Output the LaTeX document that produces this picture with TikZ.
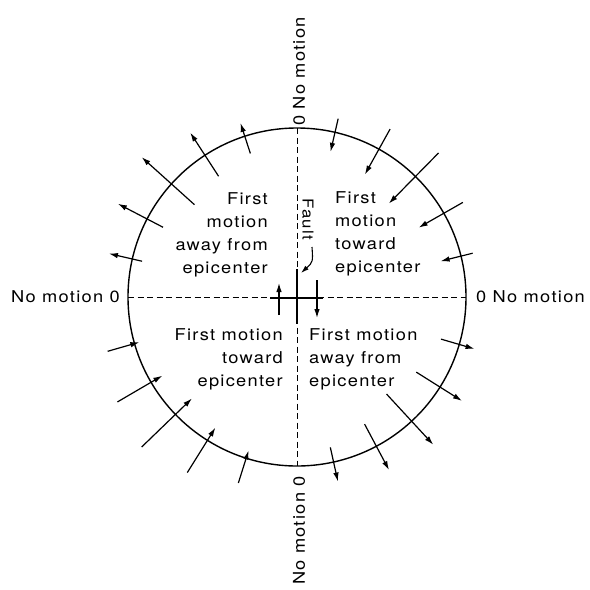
\documentclass[tikz,border=0pt]{standalone}
\usepackage{fontspec}
\setmainfont{TeX Gyre Heros}[FakeStretch=1.12,LetterSpace=8]
\usetikzlibrary{arrows.meta,calc}
\tikzset{
  motion/.style={-{Latex[length=9pt,width=5.5pt]}, line width=1.2pt},
  lbl/.style={inner sep=0pt, font=\fontsize{16.3}{23.3}\selectfont},
  faultline/.style={dash pattern=on 6pt off 3.5pt, line width=1pt},
  rim/.style={line width=1.4pt},
}
\begin{document}
\begin{tikzpicture}[x=1pt,y=-1pt]
\useasboundingbox (0,0) rectangle (590,590);
\coordinate (C) at (297,297);
\draw[rim] (C) circle[radius=169pt];
% dashed axes
\coordinate (vt) at (297,128);
\coordinate (vb) at (297,466);
\coordinate (hl) at (128,297);
\coordinate (hr) at (466,297);
\draw[faultline] (vt) -- (vb);
\draw[faultline] (hl) -- (hr);
% solid cross at centre
\coordinate (cxt) at (297,269);
\coordinate (cxb) at (297,324);
\coordinate (cxl) at (270,298);
\coordinate (cxr) at (323,298);
\draw[line width=1.3pt] (cxt) -- (cxb);
\draw[line width=1.3pt] (cxl) -- (cxr);
% slip arrows
\coordinate (ua) at (279,315);
\coordinate (ub) at (279,283);
\coordinate (da) at (317,280);
\coordinate (db) at (317,318);
\draw[motion] (ua) -- (ub);
\draw[motion] (da) -- (db);
% first-motion arrows on the rim: angle / from radius / to radius
\foreach \a/\ra/\rb [count=\i] in {
  108/151/183, 123/144/196, 138/138/209, 152.5/151/202, 167/159/193,
  77/183/149, 61/192/140, 45.5/202/131, 29.7/191/140, 14/181/148,
  196/197/164, 210.3/208/156, 224/216/146, 238/207/154, 252.5/195/161,
  -16.3/150/185, -32.2/141/195, -47.3/132/201, -62/144/196, -77.5/154/189}{
  \coordinate (s\i) at ($(C)+({-\a}:\ra)$);
  \coordinate (e\i) at ($(C)+({-\a}:\rb)$);
  \draw[motion] (s\i) -- (e\i);
}
% fault label
\node[inner sep=0pt, font=\fontsize{15}{18}\selectfont, rotate=-90] (fault) at (308,219) {Fault};
\coordinate (fs) at (312,247);
\coordinate (fe) at (301,273);
\draw[-{Latex[length=8pt,width=5pt]}, line width=1.1pt] (fs) .. controls (313,262) .. (fe);
% quadrant texts
\node[lbl, align=right, anchor=north east] (ul) at (268,192) {First\\motion\\away from\\epicenter};
\node[lbl, align=left, anchor=north west] (ur) at (335,191) {First\\motion\\toward\\epicenter};
\node[lbl, align=right, anchor=north east] (ll) at (283,328) {First motion\\toward\\epicenter};
\node[lbl, align=left, anchor=north west] (lr) at (309,328) {First motion\\away from\\epicenter};
% no-motion labels
\node[lbl, anchor=east] (nl) at (120,297) {No motion 0};
\node[lbl, anchor=west] (nr) at (476,297) {0 No motion};
\node[lbl, rotate=90, anchor=west] (nt) at (299,126) {0 No motion};
\node[lbl, rotate=90, anchor=east] (nb) at (299,476) {No motion 0};
\end{tikzpicture}
\end{document}
